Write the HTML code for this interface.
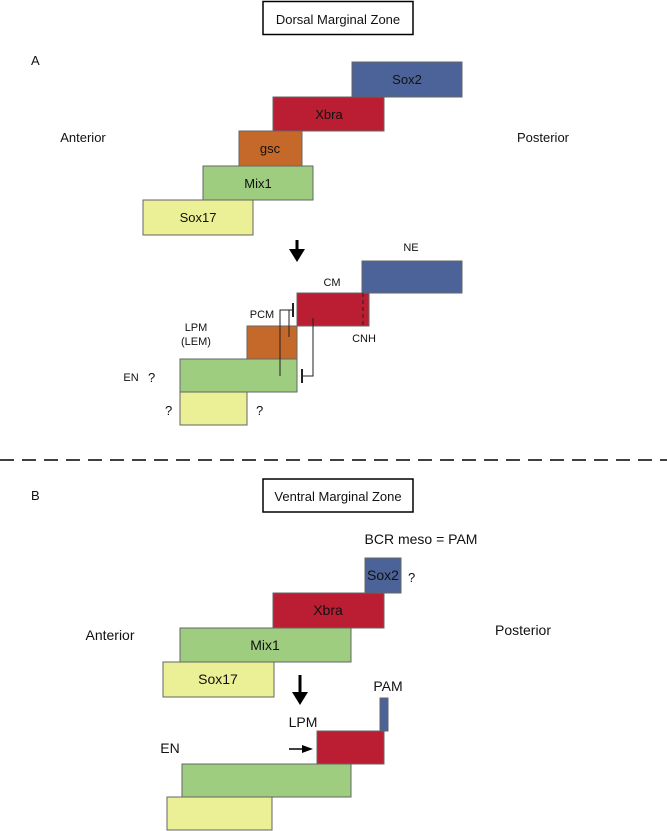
<!DOCTYPE html>
<html><head><style>body{margin:0;background:#fff}svg{display:block}text{font-family:"Liberation Sans",sans-serif;fill:#111}</style></head><body>
<svg width="667" height="831" viewBox="0 0 667 831" xmlns="http://www.w3.org/2000/svg">
<g stroke="#666" stroke-width="1">
<rect x="352" y="62" width="110" height="35" fill="#4b6398"/>
<rect x="273" y="97" width="111" height="34" fill="#bb1e32"/>
<rect x="239" y="131" width="63" height="35" fill="#c5692a"/>
<rect x="203" y="166" width="110" height="34" fill="#9fcd80"/>
<rect x="143" y="200" width="110" height="35" fill="#ebef95"/>
<rect x="362" y="261" width="100" height="32" fill="#4b6398"/>
<rect x="297" y="293" width="72" height="33" fill="#bb1e32"/>
<rect x="247" y="326" width="50" height="33" fill="#c5692a"/>
<rect x="180" y="359" width="117" height="33" fill="#9fcd80"/>
<rect x="180" y="392" width="67" height="33" fill="#ebef95"/>
<rect x="365" y="558" width="36" height="35" fill="#4b6398"/>
<rect x="273" y="593" width="111" height="35" fill="#bb1e32"/>
<rect x="180" y="628" width="171" height="34" fill="#9fcd80"/>
<rect x="163" y="662" width="111" height="35" fill="#ebef95"/>
<rect x="380" y="698" width="8" height="33" fill="#4b6398"/>
<rect x="317" y="731" width="67" height="33" fill="#bb1e32"/>
<rect x="182" y="764" width="169" height="33" fill="#9fcd80"/>
<rect x="167" y="797" width="105" height="33" fill="#ebef95"/>
</g>
<rect x="263" y="1.5" width="150" height="33" fill="#fff" stroke="#000" stroke-width="1.5"/>
<rect x="263" y="479" width="150" height="33" fill="#fff" stroke="#000" stroke-width="1.5"/>
<text x="338" y="24" font-size="13" text-anchor="middle">Dorsal Marginal Zone</text>
<text x="338" y="501" font-size="13" text-anchor="middle">Ventral Marginal Zone</text>
<text x="31" y="65" font-size="13">A</text>
<text x="31" y="500" font-size="13">B</text>
<g font-size="13" text-anchor="middle">
<text x="407" y="84">Sox2</text><text x="329" y="119">Xbra</text><text x="270" y="153">gsc</text><text x="258" y="188">Mix1</text><text x="198" y="222">Sox17</text>
<text x="83" y="142">Anterior</text><text x="543" y="142">Posterior</text>
<text x="383" y="580" font-size="14">Sox2</text><text x="328" y="615" font-size="14">Xbra</text><text x="265" y="650" font-size="14">Mix1</text><text x="218" y="684" font-size="14">Sox17</text>
<text x="110" y="640" font-size="14">Anterior</text><text x="523" y="635" font-size="14">Posterior</text>
<text x="421" y="544" font-size="14">BCR meso = PAM</text>
<text x="388" y="691" font-size="14">PAM</text><text x="303" y="727" font-size="14">LPM</text><text x="170" y="753" font-size="14">EN</text>
</g>
<text x="408" y="582" font-size="13">?</text>
<g font-size="11" text-anchor="middle">
<text x="411" y="251">NE</text><text x="332" y="286">CM</text><text x="262" y="318">PCM</text>
<text x="196" y="331">LPM</text><text x="196" y="345">(LEM)</text><text x="364" y="342">CNH</text>
<text x="131" y="381">EN</text>
</g>
<g font-size="13"><text x="148" y="382">?</text><text x="165" y="415">?</text><text x="256" y="415">?</text></g>
<line x1="297" y1="240" x2="297" y2="250" stroke="#000" stroke-width="3"/>
<path d="M289,249 L305,249 L297,262Z" fill="#000"/>
<line x1="300" y1="675" x2="300" y2="693" stroke="#000" stroke-width="3"/>
<path d="M292,692 L308,692 L300,705Z" fill="#000"/>
<line x1="289" y1="749" x2="304" y2="749" stroke="#000" stroke-width="1.5"/>
<path d="M302,745 L313,749 L302,753Z" fill="#000"/>
<g stroke="#222" stroke-width="1" fill="none">
<path d="M280,376 V310 H293"/><line x1="293" y1="303" x2="293" y2="317" stroke-width="2"/>
<line x1="289" y1="310" x2="289" y2="337"/>
<path d="M313,318 V376 H302"/><line x1="302" y1="369" x2="302" y2="383" stroke-width="2"/>
<line x1="363" y1="293" x2="363" y2="326" stroke-dasharray="4,3"/>
</g>
<line x1="0" y1="460" x2="667" y2="460" stroke="#000" stroke-width="1.5" stroke-dasharray="14,8"/>
</svg>
</body></html>
